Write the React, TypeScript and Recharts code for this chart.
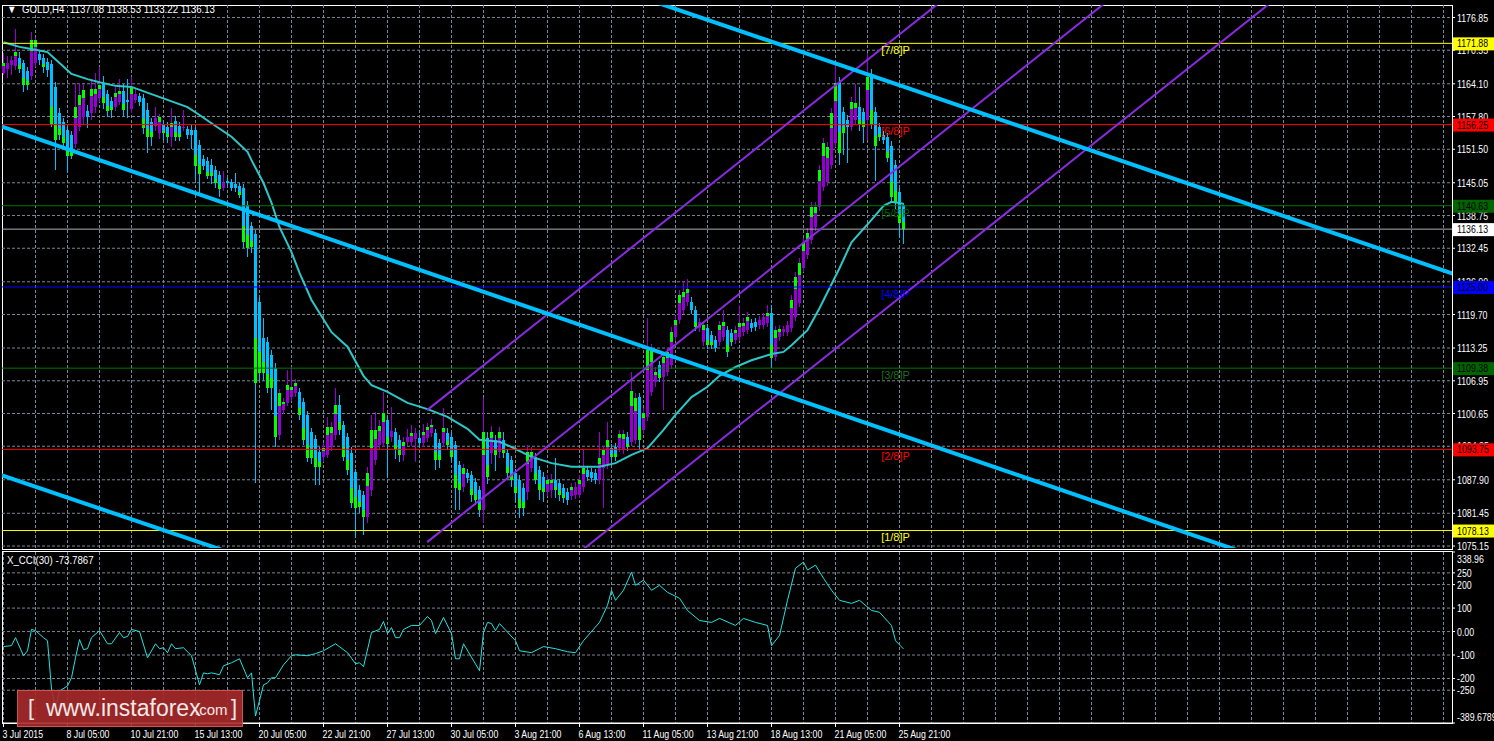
import React from 'react';
import {
  ComposedChart,
  Bar,
  Line,
  XAxis,
  YAxis,
  CartesianGrid,
  ReferenceLine,
  ReferenceDot,
} from 'recharts';

// ---- data ----
const opens = [
  1166.2, 1167.0, 1167.7, 1167.5, 1169.1, 1168.1, 1166.6, 1165.6, 1168.1, 1169.8,
  1169.1, 1168.3, 1167.9, 1163.5, 1158.5, 1156.7, 1155.2, 1154.2, 1152.5, 1155.8,
  1157.7, 1158.9, 1158.5, 1159.6, 1161.4, 1164.2, 1162.1, 1160.8, 1159.6, 1160.6,
  1162.7, 1161.0, 1159.2, 1161.0, 1161.7, 1161.4, 1159.1, 1156.7, 1156.0, 1154.6,
  1156.2, 1155.8, 1153.9, 1156.9, 1156.0, 1155.6, 1155.4, 1155.2, 1155.2, 1152.3,
  1149.6, 1149.2, 1148.5, 1147.5, 1146.5, 1144.1, 1145.4, 1145.2, 1144.8, 1144.4,
  1144.0, 1140.8, 1136.7, 1135.2, 1122.1, 1115.2, 1114.4, 1111.9, 1109.4, 1096.5,
  1101.3, 1102.7, 1103.8, 1104.6, 1104.8, 1102.9, 1100.4, 1097.1, 1095.8, 1093.3,
  1092.3, 1092.7, 1094.2, 1096.5, 1102.3, 1098.5, 1096.1, 1093.0, 1089.4, 1086.0,
  1085.0, 1080.8, 1086.0, 1091.7, 1094.6, 1095.0, 1099.4, 1096.1, 1097.1, 1095.6,
  1092.7, 1095.2, 1095.2, 1095.8, 1096.0, 1095.0, 1096.0, 1096.9, 1096.9, 1095.0,
  1095.0, 1096.9, 1096.1, 1094.6, 1090.7, 1086.5, 1089.2, 1088.8, 1087.5, 1085.9,
  1082.1, 1095.9, 1093.1, 1095.6, 1093.3, 1095.6, 1093.0, 1091.7, 1089.2, 1087.9,
  1086.3, 1085.5, 1090.2, 1092.3, 1089.8, 1088.5, 1085.5, 1085.9, 1087.9, 1087.3,
  1086.3, 1085.5, 1084.8, 1085.0, 1085.0, 1086.5, 1089.8, 1089.4, 1089.2, 1087.9,
  1090.2, 1090.8, 1094.0, 1094.2, 1094.0, 1093.6, 1096.1, 1095.2, 1095.6, 1103.8,
  1097.5, 1100.0, 1104.8, 1106.7, 1110.0, 1107.7, 1108.6, 1110.0, 1115.4, 1118.6,
  1120.6, 1122.1, 1122.1, 1120.6, 1117.1, 1114.4, 1117.1, 1115.8, 1114.8, 1114.4,
  1115.4, 1116.7, 1116.1, 1114.8, 1115.4, 1116.3, 1116.7, 1118.1, 1118.3, 1117.7,
  1117.7, 1118.1, 1120.0, 1111.5, 1115.3, 1116.3, 1116.3, 1117.1, 1119.2, 1121.9,
  1128.6, 1131.2, 1134.0, 1136.5, 1140.4, 1144.3, 1145.2, 1148.5, 1152.7, 1164.4,
  1158.7, 1157.1, 1155.8, 1157.1, 1159.6, 1158.7, 1157.1, 1165.6, 1158.7, 1155.8,
  1154.2, 1153.9, 1152.1, 1148.5, 1143.3, 1140.8,
];
const highs = [
  1170.0, 1169.5, 1169.5, 1174.6, 1170.2, 1168.7, 1167.3, 1174.1, 1172.9, 1170.6,
  1169.8, 1169.1, 1168.7, 1164.4, 1159.4, 1157.5, 1156.0, 1155.0, 1164.2, 1164.2,
  1164.0, 1160.0, 1164.6, 1166.2, 1167.3, 1165.6, 1162.9, 1161.5, 1163.5, 1165.0,
  1164.0, 1165.0, 1165.4, 1163.3, 1162.3, 1162.1, 1160.4, 1157.5, 1159.6, 1158.3,
  1157.1, 1156.7, 1159.4, 1157.9, 1156.7, 1159.0, 1156.0, 1156.2, 1155.8, 1153.3,
  1150.4, 1150.0, 1149.6, 1148.3, 1147.3, 1147.3, 1146.0, 1145.8, 1147.0, 1145.0,
  1144.8, 1141.5, 1137.5, 1136.0, 1123.0, 1119.0, 1115.4, 1112.9, 1110.4, 1105.4,
  1103.6, 1109.0, 1109.6, 1107.3, 1105.6, 1103.6, 1101.1, 1097.9, 1096.5, 1094.2,
  1095.0, 1100.0, 1099.0, 1105.6, 1104.2, 1099.2, 1096.9, 1094.2, 1090.0, 1086.9,
  1085.8, 1090.4, 1100.4, 1101.0, 1099.4, 1104.8, 1100.2, 1101.9, 1097.9, 1096.5,
  1096.1, 1097.7, 1098.5, 1097.9, 1097.3, 1098.7, 1098.9, 1099.6, 1097.7, 1095.8,
  1101.7, 1097.9, 1097.1, 1095.4, 1091.5, 1091.0, 1090.0, 1089.6, 1088.3, 1086.7,
  1103.6, 1097.0, 1098.3, 1096.5, 1098.1, 1097.0, 1093.8, 1092.5, 1090.0, 1088.8,
  1087.3, 1094.6, 1094.2, 1093.0, 1090.6, 1089.4, 1088.8, 1089.0, 1092.0, 1088.1,
  1087.1, 1086.3, 1087.3, 1087.5, 1088.8, 1093.6, 1090.6, 1090.2, 1090.0, 1097.1,
  1094.4, 1099.0, 1094.8, 1095.0, 1097.5, 1097.5, 1097.0, 1108.6, 1104.6, 1104.6,
  1101.7, 1119.0, 1114.0, 1109.6, 1110.8, 1112.5, 1113.3, 1117.3, 1119.5, 1124.4,
  1125.9, 1126.5, 1123.0, 1121.3, 1119.0, 1118.5, 1117.9, 1116.5, 1115.6, 1118.5,
  1120.5, 1117.5, 1116.9, 1117.5, 1121.5, 1119.0, 1120.2, 1118.8, 1119.0, 1119.4,
  1120.0, 1121.5, 1121.5, 1117.5, 1117.7, 1117.5, 1118.5, 1123.4, 1127.8, 1130.6,
  1134.4, 1136.3, 1141.3, 1141.3, 1148.5, 1153.7, 1152.9, 1159.4, 1167.7, 1165.4,
  1159.6, 1158.0, 1161.5, 1164.0, 1163.5, 1159.5, 1170.0, 1167.0, 1159.6, 1156.6,
  1155.0, 1154.6, 1153.0, 1149.4, 1144.0, 1141.2,
];
const lows = [
  1165.8, 1165.2, 1165.8, 1166.8, 1166.2, 1162.5, 1162.9, 1164.8, 1167.3, 1167.7,
  1166.2, 1165.4, 1155.8, 1147.5, 1153.3, 1151.7, 1147.0, 1149.6, 1151.7, 1155.0,
  1156.2, 1155.6, 1157.1, 1158.5, 1160.6, 1159.2, 1157.7, 1157.5, 1158.9, 1160.0,
  1157.9, 1157.5, 1158.5, 1160.4, 1159.8, 1154.4, 1150.8, 1152.1, 1155.0, 1153.5,
  1153.3, 1152.7, 1151.9, 1153.1, 1153.1, 1155.0, 1153.5, 1151.5, 1145.6, 1143.1,
  1147.5, 1145.8, 1144.8, 1144.0, 1142.3, 1143.5, 1144.4, 1143.5, 1143.3, 1142.1,
  1132.5, 1130.8, 1131.5, 1087.3, 1107.0, 1107.0, 1104.6, 1101.3, 1094.2, 1095.6,
  1100.5, 1102.0, 1103.0, 1103.8, 1099.4, 1094.6, 1091.3, 1091.0, 1086.9, 1086.9,
  1091.3, 1092.0, 1093.5, 1095.6, 1096.6, 1091.5, 1088.9, 1082.5, 1076.7, 1081.5,
  1077.3, 1079.6, 1084.8, 1090.8, 1093.6, 1094.2, 1088.3, 1095.2, 1091.9, 1091.3,
  1091.5, 1094.4, 1094.4, 1091.3, 1094.0, 1094.2, 1095.2, 1096.1, 1089.8, 1090.2,
  1094.2, 1093.6, 1091.5, 1082.1, 1082.1, 1085.6, 1087.3, 1083.6, 1083.0, 1080.8,
  1079.6, 1087.0, 1091.0, 1089.6, 1092.1, 1092.0, 1088.3, 1086.5, 1083.6, 1080.5,
  1081.0, 1084.0, 1089.4, 1087.0, 1084.0, 1083.6, 1084.8, 1084.4, 1084.4, 1083.8,
  1083.4, 1083.0, 1084.0, 1084.2, 1084.4, 1085.6, 1087.7, 1087.5, 1087.1, 1087.1,
  1082.5, 1090.0, 1091.5, 1091.5, 1093.3, 1092.9, 1093.4, 1094.4, 1094.8, 1093.6,
  1096.7, 1099.2, 1104.0, 1105.8, 1106.7, 1101.3, 1107.9, 1109.2, 1114.6, 1117.9,
  1119.8, 1121.3, 1119.8, 1116.5, 1116.3, 1113.6, 1113.0, 1113.1, 1112.5, 1113.6,
  1114.6, 1111.5, 1113.6, 1114.0, 1114.6, 1115.6, 1116.0, 1116.3, 1116.5, 1117.0,
  1117.0, 1117.3, 1109.4, 1110.8, 1114.6, 1115.6, 1115.6, 1116.3, 1118.4, 1121.1,
  1127.8, 1130.4, 1133.2, 1135.7, 1139.6, 1143.5, 1144.4, 1147.7, 1151.9, 1148.5,
  1150.4, 1148.9, 1155.0, 1156.3, 1155.0, 1152.7, 1153.3, 1155.4, 1145.4, 1153.1,
  1152.5, 1149.0, 1141.5, 1140.0, 1134.4, 1133.2,
];
const closes = [
  1168.1, 1168.1, 1168.7, 1170.2, 1167.0, 1163.9, 1163.9, 1172.5, 1172.5, 1168.7,
  1167.3, 1166.8, 1156.2, 1153.3, 1154.2, 1152.7, 1150.2, 1150.2, 1159.6, 1161.9,
  1162.9, 1157.7, 1163.1, 1163.1, 1163.9, 1160.4, 1158.9, 1159.1, 1162.3, 1162.7,
  1159.1, 1160.6, 1163.3, 1162.1, 1160.6, 1155.6, 1153.9, 1153.9, 1157.5, 1157.7,
  1154.6, 1153.9, 1156.6, 1153.9, 1153.9, 1155.8, 1154.2, 1154.2, 1148.3, 1146.7,
  1148.3, 1146.3, 1146.3, 1145.0, 1143.9, 1145.0, 1145.0, 1144.1, 1144.1, 1142.7,
  1133.6, 1132.5, 1132.7, 1106.5, 1108.5, 1108.5, 1105.6, 1105.6, 1096.1, 1104.6,
  1102.9, 1106.1, 1105.8, 1106.5, 1100.4, 1095.6, 1092.1, 1092.1, 1090.4, 1090.4,
  1094.0, 1098.1, 1098.1, 1102.3, 1097.5, 1092.3, 1089.8, 1083.4, 1082.5, 1082.7,
  1080.8, 1089.2, 1097.5, 1097.5, 1098.3, 1100.8, 1094.8, 1097.3, 1093.6, 1092.7,
  1095.2, 1096.1, 1096.9, 1096.9, 1095.0, 1097.1, 1098.1, 1098.5, 1091.7, 1091.7,
  1097.9, 1094.6, 1092.3, 1086.3, 1085.9, 1090.2, 1088.3, 1085.0, 1084.0, 1082.1,
  1097.1, 1088.4, 1097.1, 1092.7, 1097.1, 1093.0, 1089.2, 1087.9, 1085.4, 1082.5,
  1082.5, 1093.3, 1093.3, 1087.9, 1085.9, 1085.5, 1087.9, 1087.9, 1085.9, 1085.0,
  1084.4, 1084.0, 1086.5, 1086.5, 1087.9, 1090.2, 1088.5, 1088.3, 1087.9, 1092.1,
  1093.6, 1095.6, 1092.3, 1092.3, 1096.7, 1096.7, 1094.2, 1105.0, 1103.6, 1095.6,
  1100.8, 1112.9, 1112.9, 1108.6, 1107.5, 1111.5, 1112.5, 1116.3, 1118.6, 1123.4,
  1124.0, 1124.6, 1120.6, 1117.3, 1118.3, 1117.7, 1113.8, 1113.8, 1113.3, 1117.7,
  1118.3, 1112.5, 1114.4, 1116.7, 1118.1, 1118.1, 1119.2, 1117.1, 1117.3, 1118.6,
  1119.2, 1120.0, 1111.3, 1116.7, 1116.9, 1116.9, 1117.7, 1122.5, 1126.9, 1129.6,
  1133.4, 1135.4, 1140.4, 1140.4, 1147.5, 1152.7, 1151.9, 1158.5, 1164.2, 1150.8,
  1154.6, 1155.8, 1160.6, 1160.4, 1156.2, 1155.8, 1165.4, 1156.2, 1152.1, 1153.9,
  1153.3, 1149.8, 1142.3, 1141.2, 1137.3, 1136.13,
];

// moving average, read at sampled bars
const maIdx = [
  0, 4, 7, 11, 14, 17, 21, 24, 28, 32, 37, 41, 46, 49, 52, 57, 61, 62, 65, 67,
  69, 72, 74, 77, 82, 86, 90, 92, 96, 101, 106, 111, 116, 119, 124, 127, 132, 137, 142, 149,
  153, 157, 161, 165, 168, 172, 176, 179, 183, 187, 192, 195, 197, 201, 204, 209, 212, 217, 220, 222,
  225,
];
const maVal = [
  1172.1, 1171.2, 1170.8, 1170.2, 1168.1, 1166.0, 1165.0, 1164.4, 1163.7, 1163.5,
  1162.1, 1161.0, 1159.6, 1158.1, 1156.5, 1153.9, 1151.0, 1149.4, 1145.0, 1141.2,
  1136.5, 1131.7, 1127.7, 1122.5, 1116.3, 1113.5, 1107.9, 1106.1, 1104.8, 1102.7,
  1101.5, 1100.0, 1097.7, 1095.6, 1095.2, 1094.2, 1092.3, 1091.1, 1090.4, 1090.4,
  1091.1, 1092.7, 1094.0, 1097.5, 1100.4, 1103.8, 1105.8, 1107.9, 1109.6, 1110.9,
  1112.1, 1112.5, 1113.8, 1116.7, 1120.9, 1128.6, 1133.6, 1137.9, 1140.6, 1141.4,
  1141.0,
];

// CCI(30), read at sampled bars
const cciIdx = [
  0, 2, 3, 5, 6, 7, 8, 10, 11, 12, 13, 14, 16, 17, 18, 19, 20, 21, 22, 24,
  26, 27, 29, 30, 31, 32, 34, 36, 38, 39, 40, 41, 42, 43, 45, 47, 49, 50, 51, 52,
  54, 55, 57, 59, 61, 62, 63, 65, 66, 67, 68, 70, 72, 73, 76, 78, 80, 83, 86, 88,
  89, 90, 92, 94, 95, 96, 97, 98, 99, 100, 102, 104, 106, 107, 108, 110, 112, 113, 114, 115,
  119, 120, 121, 122, 123, 124, 128, 129, 132, 135, 138, 141, 143, 145, 149, 151, 152, 153, 155, 157,
  158, 160, 162, 164, 166, 169, 171, 174, 177, 179, 183, 185, 188, 191, 192, 194, 196, 198, 200, 201,
  203, 205, 207, 209, 212, 214, 217, 219, 222, 223, 225,
];
const cciVal = [
  -64, -60, -26, -103, -82, 9, 4, -26, -39, -245, -326, -253, -232, -197, -112, -34, -77, -73, -26, 4,
  -52, -52, -4, -26, -21, 9, 0, -112, -52, -73, -69, -90, -52, -73, -69, -103, -227, -176, -180, -176,
  -184, -146, -133, -116, -197, -176, -360, -227, -219, -197, -197, -142, -103, -99, -103, -94, -82, -52, -90, -137,
  -133, -150, -4, 9, 43, -9, 17, -26, -26, 9, 26, 26, 64, 47, -9, 60, -9, -116, -116, -52,
  -167, -4, 39, 34, 4, 34, -39, -82, -90, -64, -73, -86, -90, -39, 39, 112, 176, 133, 176, 253,
  197, 219, 176, 197, 167, 142, 90, 47, 39, 56, 26, 56, 39, 26, -60, -17, 133, 270, 296, 262,
  283, 227, 176, 133, 120, 133, 90, 82, 26, -39, -74,
];

const priceTicks = [
  1176.85, 1170.55, 1164.1, 1157.8, 1151.5, 1145.05, 1138.75, 1132.45, 1126.0,
  1119.7, 1113.25, 1106.95, 1100.65, 1094.35, 1087.9, 1081.45, 1075.15,
];
const levelValues = [1171.88, 1156.25, 1140.63, 1125.0, 1109.38, 1093.75, 1078.13];
const levelNames = ['[7/8]P', '[6/8]P', '[5/8]P', '[4/8]P', '[3/8]P', '[2/8]P', '[1/8]P'];
const lastPrice = 1136.13;

const cciTicks = [338.96, 250, 200, 100, 0, -100, -200, -250, -389.6789];
const cciTickText = ['338.96', '250', '200', '100', '0.00', '-100', '-200', '-250', '-389.6789'];

const timeIdx = [0, 16, 32, 48, 64, 80, 96, 112, 128, 144, 160, 176, 192, 208, 224];
const timeLabels = [
  '3 Jul 2015', '8 Jul 05:00', '10 Jul 21:00', '15 Jul 13:00', '20 Jul 05:00',
  '22 Jul 21:00', '27 Jul 13:00', '30 Jul 05:00', '3 Aug 21:00', '6 Aug 13:00',
  '11 Aug 05:00', '13 Aug 21:00', '18 Aug 13:00', '21 Aug 05:00', '25 Aug 21:00',
];

// trend channels (bar index, price)
const blueChannel = [
  [{ x: 160, y: 1180.6 }, { x: 363, y: 1127.4 }],
  [{ x: -1, y: 1156.0 }, { x: 315, y: 1072.6 }],
  [{ x: -1, y: 1088.9 }, { x: 60, y: 1073.0 }],
];
const purpleChannel = [
  [{ x: 105.9, y: 1101.3 }, { x: 240, y: 1183.4 }],
  [{ x: 105.9, y: 1075.9 }, { x: 290, y: 1188.6 }],
  [{ x: 140, y: 1071.5 }, { x: 340, y: 1193.9 }],
];

// ---- styles ----
const FONT = "'Liberation Sans', Arial, sans-serif";
const SQUEEZE = 0.88;
const UP = '#9400d3';
const DOWN = '#00bfff';
const REAL = '#00ff00';
const GRID = '#7a8796';
const levelLineColors = ['#ffff00', '#ff0000', '#007800', '#0000ff', '#007800', '#ff0000', '#ffff00'];
const levelBoxColors = ['#ffff00', '#ff0000', '#006400', '#0000ff', '#006400', '#ff0000', '#ffff00'];
const levelTextColors = ['#ffff00', '#ff0000', '#006400', '#0000ff', '#1d6e1d', '#ff0000', '#ffff00'];
const LABEL_AT = 223;
const X_DOMAIN: [number, number] = [-0.375, 362.125];
const Y_DOMAIN: [number, number] = [1074.77, 1179.26];
const CCI_DOMAIN: [number, number] = [-389.6789, 338.96];
const vGrid = Array.from({ length: 46 }, (_, k) => k * 8);

const candles = opens.map((o, i) => {
  const k = maIdx.indexOf(i);
  return { i, o, h: highs[i], l: lows[i], c: closes[i], ma: k >= 0 ? maVal[k] : null };
});
const cciData = cciIdx.map((i, k) => ({ i, v: cciVal[k] }));

// narrow text, close to the terminal's small font
const NText = ({ x, y, dy = 0, fill, size = 10, anchor = 'start', children }: any) => (
  <text
    transform={`translate(${x},${y}) scale(${SQUEEZE},1)`}
    dy={dy}
    fill={fill}
    textAnchor={anchor}
    style={{ fontFamily: FONT, fontSize: size }}
  >
    {children}
  </text>
);

const Candle = (props: any) => {
  const { x, y, width, height, payload } = props;
  if (!payload || x == null || y == null) return null;
  const top = Math.min(y, y + height);
  const h = Math.abs(height);
  const range = payload.h - payload.l || 1;
  const toY = (v: number) => top + ((payload.h - v) / range) * h;
  const yo = toY(payload.o);
  const yc = toY(payload.c);
  const up = payload.c >= payload.o;
  const color = up ? UP : DOWN;
  const cx = Math.floor(x + width / 2);
  const bTop = Math.min(yo, yc);
  const bH = Math.max(1, Math.abs(yc - yo));
  const g = bH >= 8 ? bH * 0.3 : 0;
  return (
    <g shapeRendering="crispEdges">
      <rect x={cx} y={top} width={1} height={Math.max(1, h)} fill={color} />
      <rect x={cx - 1} y={bTop} width={3} height={bH} fill={color} />
      {g > 0 && (
        <rect x={cx - 1} y={up ? bTop : bTop + bH - g} width={3} height={g} fill={REAL} />
      )}
    </g>
  );
};

const PriceTick = (props: any) => {
  const { x, y, payload } = props;
  const v = payload.value;
  const li = levelValues.indexOf(v);
  if (li >= 0 || v === lastPrice) {
    const bg = li >= 0 ? levelBoxColors[li] : '#ffffff';
    return (
      <g>
        <rect x={x - 4} y={y - 6} width={42} height={13} fill={bg} />
        <NText x={x} y={y} dy={4} fill="#000">
          {v.toFixed(2)}
        </NText>
      </g>
    );
  }
  return (
    <NText x={x} y={y} dy={4} fill="#fff">
      {v.toFixed(2)}
    </NText>
  );
};

const CciTick = (props: any) => {
  const { x, y, payload, index } = props;
  let dy = 4;
  if (payload.value === cciTicks[0]) dy = 11;
  if (payload.value === cciTicks[cciTicks.length - 1]) dy = -2;
  return (
    <NText x={x} y={y} dy={dy} fill="#fff">
      {cciTickText[index] ?? payload.value}
    </NText>
  );
};

const TimeTick = (props: any) => {
  const { x, y, index } = props;
  return (
    <NText x={x - 1} y={y} dy={9} fill="#fff">
      {timeLabels[index]}
    </NText>
  );
};

const App: React.FC = () => {
  return (
    <div
      style={{
        position: 'absolute',
        left: 0,
        top: 0,
        width: 1494,
        height: 741,
        background: '#000',
        overflow: 'hidden',
        fontFamily: FONT,
      }}
    >
      <div style={{ position: 'absolute', left: 2, top: 5, width: 1451, height: 545, border: '1px solid #fff', boxSizing: 'border-box' }} />
      <div style={{ position: 'absolute', left: 2, top: 551, width: 1451, height: 173, border: '1px solid #fff', boxSizing: 'border-box' }} />

      <div style={{ position: 'absolute', left: 0, top: 0 }}>
        <ComposedChart width={1494} height={560} data={candles} margin={{ top: 5, right: 0, bottom: 12, left: 2 }}>
          <CartesianGrid
            stroke={GRID}
            strokeDasharray="3 2"
            horizontalValues={priceTicks}
            verticalValues={vGrid}
          />
          <XAxis type="number" dataKey="i" domain={X_DOMAIN} allowDataOverflow hide />
          <YAxis
            orientation="right"
            width={42}
            domain={Y_DOMAIN}
            allowDataOverflow
            ticks={[...priceTicks, lastPrice, ...levelValues]}
            interval={0}
            tick={<PriceTick />}
            tickSize={3}
            tickLine={{ stroke: '#fff' }}
            axisLine={false}
          />
          <Bar
            dataKey={(d: any) => [d.l, d.h]}
            barSize={3}
            shape={<Candle />}
            isAnimationActive={false}
          />
          <Line
            dataKey="ma"
            stroke="#2cc7c7"
            strokeWidth={2}
            dot={false}
            connectNulls
            isAnimationActive={false}
          />
          <ReferenceLine y={lastPrice} stroke="#a8b0b8" strokeWidth={1} />
          {levelValues.map((v, k) => (
            <ReferenceLine key={'lv' + k} y={v} stroke={levelLineColors[k]} strokeWidth={1} />
          ))}
          {levelValues.map((v, k) => (
            <ReferenceDot
              key={'ld' + k}
              x={LABEL_AT}
              y={v}
              r={1}
              fill="none"
              stroke="none"
              label={{ value: levelNames[k], position: 'bottom', offset: 2, fill: levelTextColors[k], fontSize: 11, fontFamily: FONT }}
            />
          ))}
          {purpleChannel.map((seg, k) => (
            <ReferenceLine key={'pc' + k} segment={seg} stroke="#8a2be2" strokeWidth={2} ifOverflow="hidden" />
          ))}
          {blueChannel.map((seg, k) => (
            <ReferenceLine key={'bc' + k} segment={seg} stroke="#00bfff" strokeWidth={4} ifOverflow="hidden" />
          ))}
        </ComposedChart>
      </div>

      <div style={{ position: 'absolute', left: 0, top: 551 }}>
        <ComposedChart width={1494} height={190} data={cciData} margin={{ top: 1, right: 0, bottom: 0, left: 2 }}>
          <CartesianGrid
            stroke={GRID}
            strokeDasharray="3 2"
            horizontalValues={[250, 200, 100, 0, -100, -200, -250]}
            verticalValues={vGrid}
          />
          <XAxis
            type="number"
            dataKey="i"
            domain={X_DOMAIN}
            allowDataOverflow
            ticks={timeIdx}
            interval={0}
            height={18}
            tick={<TimeTick />}
            tickSize={4}
            tickLine={{ stroke: '#fff' }}
            axisLine={{ stroke: '#fff' }}
          />
          <YAxis
            orientation="right"
            width={42}
            domain={CCI_DOMAIN}
            allowDataOverflow
            ticks={cciTicks}
            interval={0}
            tick={<CciTick />}
            tickSize={3}
            tickLine={{ stroke: '#fff' }}
            axisLine={false}
          />
          <Line dataKey="v" stroke="#22e3e3" strokeWidth={1} dot={false} isAnimationActive={false} />
        </ComposedChart>
      </div>

      <div
        style={{
          position: 'absolute',
          left: 7,
          top: 3,
          color: '#fff',
          fontSize: 11,
          whiteSpace: 'pre',
          transform: `scaleX(${SQUEEZE})`,
          transformOrigin: 'left top',
        }}
      >
        {'\u25BC  GOLD,H4  1137.08 1138.53 1133.22 1136.13'}
      </div>
      <div
        style={{
          position: 'absolute',
          left: 7,
          top: 554,
          color: '#fff',
          fontSize: 11,
          whiteSpace: 'pre',
          transform: `scaleX(${SQUEEZE})`,
          transformOrigin: 'left top',
        }}
      >
        {'X_CCI(30) -73.7867'}
      </div>

      <div
        style={{
          position: 'absolute',
          left: 17,
          top: 690,
          width: 226,
          height: 37,
          background: 'rgba(168, 42, 42, 0.9)',
          border: '1px solid rgba(210, 90, 90, 0.9)',
          boxSizing: 'border-box',
          color: '#f4e8e8',
          fontFamily: "'Liberation Sans', Arial, sans-serif",
          whiteSpace: 'pre',
        }}
      >
        <span style={{ position: 'absolute', left: 10, top: 4, fontSize: 22 }}>[</span>
        <span style={{ position: 'absolute', left: 28, top: 4, fontSize: 23 }}>www.instaforex</span>
        <span style={{ position: 'absolute', left: 177, top: 10, fontSize: 15 }}>.com</span>
        <span style={{ position: 'absolute', left: 213, top: 4, fontSize: 22 }}>]</span>
      </div>
    </div>
  );
};

export default App;
